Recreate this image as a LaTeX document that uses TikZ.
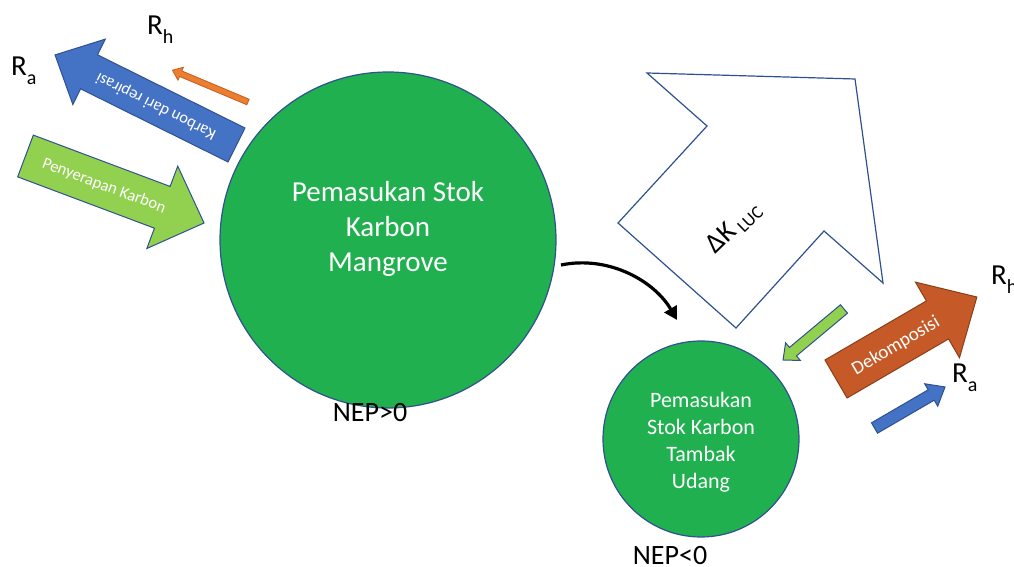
\documentclass[tikz,border=0pt]{standalone}
\usepackage{fontspec}
\setmainfont{Carlito}
\usetikzlibrary{arrows.meta}
\definecolor{circgreen}{HTML}{21B050}
\definecolor{edgeblue}{HTML}{2F528F}
\definecolor{ablue}{HTML}{4472C4}
\definecolor{lgreen}{HTML}{92D050}
\definecolor{aorange}{HTML}{ED7D31}
\definecolor{aorangeedge}{HTML}{C0601F}
\definecolor{dorange}{HTML}{C55A28}
\definecolor{dorangeedge}{HTML}{8A3E1A}
\tikzset{
  pics/barrow/.style args={#1/#2/#3/#4}{code={
    \draw[pic actions] (0,-#2/2) -- ({#1-#4},-#2/2) -- ({#1-#4},-#3/2) -- (#1,0)
      -- ({#1-#4},#3/2) -- ({#1-#4},#2/2) -- (0,#2/2) -- cycle;
  }},
  circ/.style={circle, fill=circgreen, draw=edgeblue, line width=1.2pt, inner sep=0pt},
  bluearr/.style={fill=ablue, draw=edgeblue, line width=1pt, line join=miter},
  greenarr/.style={fill=lgreen, draw=edgeblue, line width=1pt},
  arrtext/.style={text=white, inner sep=0pt},
  lbl/.style={anchor=base west, inner sep=0pt, font=\fontsize{29}{29}\selectfont},
}
\newcommand{\subs}[1]{\raisebox{-0.3em}{\fontsize{20}{20}\selectfont #1}}
\begin{document}
\begin{tikzpicture}[x=1pt,y=1pt]
\useasboundingbox (0,0) rectangle (1014,567);

% big white arrow Delta K
\draw[edgeblue, line width=1.2pt, fill=white] (647,494) -- (855,488) -- (883,284) -- (824,336)
  -- (736,239) -- (618,344) -- (707,441) -- cycle;
\node[rotate=44, inner sep=0pt, font=\fontsize{28}{28}\selectfont] (dk) at (734,339)
  {ΔK\,\raisebox{-0.15em}{\fontsize{18}{18}\selectfont LUC}};

% circles
\node[circ, minimum size=336pt] (big) at (388,327) {};
\node[circ, minimum size=196pt] (small) at (701,128) {};
\node[text=white, align=center, font=\fontsize{29}{35}\selectfont] (bigt) at (388,338)
  {Pemasukan Stok\\Karbon\\Mangrove};
\node[text=white, align=center, font=\fontsize{22}{27}\selectfont] (smallt) at (701,125)
  {Pemasukan\\Stok Karbon\\Tambak\\Udang};
\node[font=\fontsize{28}{28}\selectfont, inner sep=0pt] (nep1) at (370,154) {NEP>0};
\node[font=\fontsize{28}{28}\selectfont, inner sep=0pt] (nep2) at (670,11) {NEP<0};

% block arrows
\pic[rotate=153.6, bluearr] at (236.5,422) {barrow=202.6/38/73/38};
\node[arrtext, rotate=153.6, font=\fontsize{16.5}{16.5}\selectfont] (t1) at (156,461) {Karbon dari repirasi};
\pic[rotate=157.2, fill=aorange, draw=aorangeedge, line width=0.8pt] at (248,465) {barrow=82/6/14/9};
\pic[rotate=-20.57, greenarr] at (25.5,411) {barrow=190.7/44.6/88/44.6};
\node[arrtext, rotate=-20.6, font=\fontsize{16.5}{16.5}\selectfont] (t2) at (104,381) {Penyerapan Karbon};
\pic[rotate=30.2, fill=dorange, draw=dorangeedge, line width=1pt] at (836,188) {barrow=163/44/87.5/45.6};
\node[arrtext, rotate=30.2, font=\fontsize{19}{19}\selectfont] (t3) at (896,221) {Dekomposisi};
\pic[rotate=30.2, bluearr] at (874.5,139) {barrow=81.6/12/26/16};
\pic[rotate=219.9, greenarr] at (844,258) {barrow=79.5/11/23/13};

% labels
\node[lbl] (ra1) at (11,491) {R\subs{a}};
\node[lbl] (rh1) at (147,532) {R\subs{h}};
\node[lbl] (rh2) at (991,282) {R\subs{h}};
\node[lbl] (ra2) at (952,184) {R\subs{a}};

% curved arrow
\coordinate (cs) at (561,302);
\coordinate (ce) at (677,247);
\draw[line width=3.2pt, -{Triangle[length=13pt,width=14pt]}] (cs) .. controls (610,312) and (655,285) .. (ce);
\end{tikzpicture}
\end{document}
